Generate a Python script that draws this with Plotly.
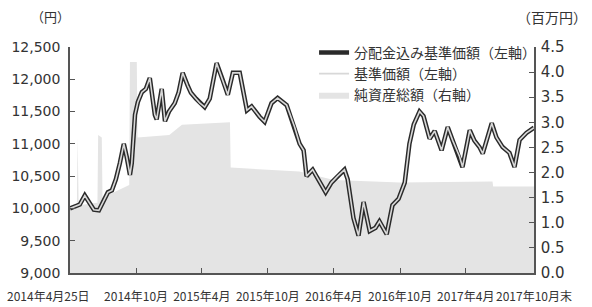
import plotly.graph_objects as go

# 基準価額 / 分配金込み基準価額 (円)
nav_dates = [
    "2014-04-25", "2014-05-09", "2014-05-22", "2014-06-05", "2014-06-16", "2014-06-30",
    "2014-07-14", "2014-07-25", "2014-08-08", "2014-08-19", "2014-08-30", "2014-09-10",
    "2014-09-21", "2014-09-29", "2014-10-08", "2014-10-13", "2014-10-22", "2014-10-30",
    "2014-11-10", "2014-11-21", "2014-12-02", "2014-12-16", "2014-12-21", "2015-01-04",
    "2015-01-13", "2015-01-24", "2015-02-09", "2015-02-20", "2015-03-03", "2015-03-17",
    "2015-03-26", "2015-04-09", "2015-04-20", "2015-05-03", "2015-05-17", "2015-06-05",
    "2015-06-22", "2015-07-06", "2015-07-20", "2015-08-08", "2015-08-28", "2015-09-10",
    "2015-10-02", "2015-10-16", "2015-11-04", "2015-11-21", "2015-12-16", "2016-01-07",
    "2016-01-21", "2016-02-01", "2016-02-09", "2016-02-26", "2016-04-02", "2016-04-18",
    "2016-05-05", "2016-05-24", "2016-06-02", "2016-06-18", "2016-07-02", "2016-07-16",
    "2016-08-02", "2016-08-18", "2016-08-29", "2016-09-18", "2016-10-04", "2016-10-21",
    "2016-11-07", "2016-11-20", "2016-12-02", "2016-12-18", "2016-12-29", "2017-01-15",
    "2017-01-29", "2017-02-17", "2017-03-06", "2017-03-20", "2017-04-08", "2017-04-16",
    "2017-05-06", "2017-05-19", "2017-06-02", "2017-06-11", "2017-07-06", "2017-07-19",
    "2017-08-05", "2017-08-24", "2017-09-07", "2017-09-21", "2017-10-10", "2017-10-31",
]
nav_total = [
    10000, 10030, 10060, 10200, 10100, 9980,
    9970, 10100, 10250, 10280, 10450, 10700,
    11000, 10800, 10520, 10700, 11450, 11650,
    11800, 11850, 12020, 11450, 11380, 11850,
    11350, 11500, 11630, 11800, 12100, 11900,
    11790, 11700, 11630, 11570, 11700, 12250,
    11990, 11760, 12100, 12100, 11520, 11580,
    11420, 11340, 11630, 11710, 11600, 11260,
    11000, 10900, 10500, 10600, 10250, 10400,
    10500, 10600, 10450, 9850, 9580, 10100,
    9650, 9700, 9800, 9600, 10050, 10150,
    10400, 11000, 11300, 11500, 11430, 11080,
    11200, 10900, 11260, 11050, 10800, 10640,
    11210, 11050, 10950, 10850, 11320, 11100,
    10950, 10860, 10640, 11060, 11170, 11250,
]
nav = list(nav_total)  # no distributions paid: identical series

# 純資産総額 (百万円)
asset_dates = [
    "2014-04-25", "2014-05-14", "2014-05-16", "2014-05-19", "2014-07-10", "2014-07-12",
    "2014-07-22", "2014-07-24", "2014-10-06", "2014-10-08", "2014-10-27", "2014-10-29",
    "2015-01-25", "2015-03-01", "2015-07-12", "2015-07-14", "2016-01-20", "2016-04-25",
    "2016-10-25", "2017-07-08", "2017-07-10", "2017-10-31",
]
assets = [
    1.30, 1.30, 2.70, 1.35, 1.40, 2.75,
    2.70, 1.50, 1.75, 4.20, 4.20, 2.70,
    2.75, 2.95, 3.00, 2.10, 2.02, 1.85,
    1.80, 1.82, 1.72, 1.72,
]

tick_dates = ["2014-04-25", "2014-10-25", "2015-04-25", "2015-10-25",
              "2016-04-25", "2016-10-25", "2017-04-25", "2017-10-31"]
tick_labels = ["2014年4月25日", "2014年10月", "2015年4月", "2015年10月",
               "2016年4月", "2016年10月", "2017年4月", "2017年10月末"]
left_ticks = [9000, 9500, 10000, 10500, 11000, 11500, 12000, 12500]
right_ticks = [0, 0.5, 1, 1.5, 2, 2.5, 3, 3.5, 4, 4.5]

FONT = "Noto Sans CJK JP"
NUMFONT = "DejaVu Sans, Noto Sans CJK JP"
TXT = "#333333"
AX = "#555555"

fig = go.Figure()
fig.add_trace(go.Scatter(
    x=asset_dates, y=assets, name="純資産総額（右軸）", yaxis="y",
    fill="tozeroy", fillcolor="#e4e4e4", mode="lines",
    line=dict(width=0, color="#e4e4e4"), legendrank=3,
))
fig.add_trace(go.Scatter(
    x=nav_dates, y=nav_total, name="分配金込み基準価額（左軸）", yaxis="y2",
    mode="lines", line=dict(color="#2a2a2a", width=4.5), legendrank=1,
))
fig.add_trace(go.Scatter(
    x=nav_dates, y=nav, name="基準価額（左軸）", yaxis="y2",
    mode="lines", line=dict(color="#d8d8d8", width=1.6), legendrank=2,
))

# first x label drawn left-shifted (as in the reference) so it does not collide
x_ticktext = [""] + tick_labels[1:]

fig.update_layout(
    width=592, height=307,
    margin=dict(l=70, r=58, t=47, b=34, autoexpand=False),
    paper_bgcolor="white", plot_bgcolor="white",
    font=dict(family=FONT, color=TXT, size=13),
    showlegend=True,
    legend=dict(
        x=0.526, y=1.045, xanchor="left", yanchor="top",
        bgcolor="rgba(0,0,0,0)", font=dict(size=14, color=TXT),
        itemwidth=30, tracegroupgap=0,
    ),
    xaxis=dict(
        type="date", range=["2014-04-25", "2017-10-31"], automargin=False,
        tickvals=tick_dates, ticktext=x_ticktext, tickangle=0,
        ticks="inside", ticklen=5, tickcolor=AX, ticklabelstandoff=12,
        showline=True, linecolor=AX, linewidth=1.5,
        showgrid=False, zeroline=False,
        tickfont=dict(size=12, color=TXT),
    ),
    yaxis=dict(
        side="right", range=[0, 4.5], tickvals=right_ticks, tickformat=".1f",
        automargin=False, ticklabelstandoff=2,
        ticks="inside", ticklen=5, tickcolor=AX,
        showline=True, linecolor=AX, linewidth=1.5,
        showgrid=False, zeroline=False,
        tickfont=dict(family=NUMFONT, size=15, color=TXT),
    ),
    yaxis2=dict(
        overlaying="y", side="left", range=[9000, 12500], tickvals=left_ticks,
        automargin=False, ticklabelstandoff=5,
        tickformat=",d", ticks="inside", ticklen=5, tickcolor=AX,
        showline=True, linecolor=AX, linewidth=1.5,
        showgrid=False, zeroline=False,
        tickfont=dict(family=NUMFONT, size=14, color=TXT),
    ),
    annotations=[
        dict(text="（円）", xref="paper", yref="paper", x=-0.041, y=1.133,
             xanchor="center", yanchor="middle", showarrow=False,
             font=dict(size=13, color=TXT)),
        dict(text="（百万円）", xref="paper", yref="paper", x=1.039, y=1.133,
             xanchor="center", yanchor="middle", showarrow=False,
             font=dict(size=14, color=TXT)),
        dict(text=tick_labels[0], xref="paper", yref="paper", x=0.047, y=-0.1,
             xanchor="right", yanchor="middle", showarrow=False,
             font=dict(size=12, color=TXT)),
    ],
)

fig.write_html("out.html", config={"displayModeBar": False},
               post_script="document.body.style.margin='0';")
